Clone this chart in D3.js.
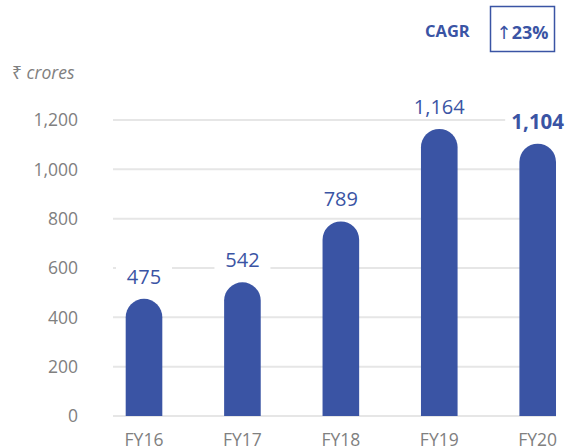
<!DOCTYPE html>
<html>
<head>
<meta charset="utf-8">
<script src="https://cdn.jsdelivr.net/npm/d3@7/dist/d3.min.js"></script>
<style>
  html, body { margin: 0; padding: 0; background: #ffffff; }
  svg { display: block; }
</style>
</head>
<body>
<svg id="chart" width="572" height="448"></svg>
<script>
const categories = ["FY16", "FY17", "FY18", "FY19", "FY20"];
const values = [475, 542, 789, 1164, 1104];
const valueLabels = ["475", "542", "789", "1,164", "1,104"];
const yTicks = [0, 200, 400, 600, 800, 1000, 1200];
const unitLabel = "crores";
const cagrLabel = "CAGR";
const cagrValue = "23%";

const FONT = "'Open Sans', 'Noto Sans', sans-serif";
const BLUE = "#3a54a4";
const GRAY = "#808080";
const GRID = "#e6e6e6";

const svg = d3.select("#chart");

const y = d3.scaleLinear().domain([0, 1200]).range([416, 120]);
const x = d3.scaleBand().domain(categories).range([112.9, 568.8])
  .paddingInner(0.628).paddingOuter(0.13);
const bw = x.bandwidth();
const gridX0 = 113, gridX1 = x(categories[categories.length - 1]) + bw;

// gridlines
svg.append("g").selectAll("line").data(yTicks).join("line")
  .attr("x1", gridX0).attr("x2", gridX1)
  .attr("y1", d => y(d)).attr("y2", d => y(d))
  .attr("stroke", GRID).attr("stroke-width", 2);

// y tick labels
svg.append("g").selectAll("text").data(yTicks).join("text")
  .attr("x", 78).attr("y", d => y(d))
  .attr("dy", "0.36em")
  .attr("text-anchor", "end")
  .attr("font-family", FONT).attr("font-size", 17.5)
  .attr("fill", GRAY)
  .text(d => d3.format(",")(d));

// bars with rounded top
const r = bw / 2;
function barPath(d, i) {
  const x0 = x(categories[i]);
  const yt = y(d);
  const yb = y(0);
  return `M${x0},${yb} L${x0},${yt + r} A${r},${r} 0 0 1 ${x0 + bw},${yt + r} L${x0 + bw},${yb} Z`;
}
svg.append("g").selectAll("path").data(values).join("path")
  .attr("d", (d, i) => barPath(d, i))
  .attr("fill", BLUE);

// value labels with white backgrounds
const lg = svg.append("g");
values.forEach((v, i) => {
  const cx = x(categories[i]) + bw / 2;
  const last = i === values.length - 1;
  const g = lg.append("g");
  const rect = g.append("rect").attr("fill", "#ffffff");
  const t = g.append("text")
    .attr("x", cx).attr("y", y(v) - 15)
    .attr("text-anchor", "middle")
    .attr("font-family", FONT)
    .attr("font-size", last ? 20.5 : 20)
    .attr("font-weight", last ? 700 : 400)
    .attr("fill", BLUE)
    .text(valueLabels[i]);
  const bb = t.node().getBBox();
  const w = Math.max(bb.width + 12, 56);
  rect.attr("x", cx - w / 2).attr("y", bb.y + 4)
    .attr("width", w).attr("height", bb.height - 8);
});

// x labels
svg.append("g").selectAll("text").data(categories).join("text")
  .attr("x", d => x(d) + bw / 2).attr("y", 446)
  .attr("text-anchor", "middle")
  .attr("font-family", FONT).attr("font-size", 17.5)
  .attr("fill", GRAY)
  .text(d => d);

// unit label
const ut = svg.append("text").attr("x", 12).attr("y", 79)
  .attr("font-family", FONT).attr("font-size", 17.5).attr("fill", GRAY);
ut.append("tspan").attr("font-family", "'Noto Sans', 'DejaVu Sans', sans-serif").text("₹ ");
ut.append("tspan").attr("font-style", "italic").text(unitLabel);

// CAGR
svg.append("text").attr("x", 425).attr("y", 37)
  .attr("font-family", FONT).attr("font-size", 16.5).attr("font-weight", 700)
  .attr("fill", BLUE)
  .text(cagrLabel);
svg.append("rect").attr("x", 490.5).attr("y", 6.5).attr("width", 64).attr("height", 45)
  .attr("fill", "none").attr("stroke", BLUE).attr("stroke-width", 1.5);
const ct = svg.append("text").attr("x", 522.5).attr("y", 38.5)
  .attr("text-anchor", "middle")
  .attr("font-family", FONT).attr("font-size", 18).attr("font-weight", 700)
  .attr("fill", BLUE);
ct.append("tspan").attr("font-family", "'DejaVu Sans', sans-serif").attr("font-weight", 400).text("↑");
ct.append("tspan").text(cagrValue);
</script>
</body>
</html>
